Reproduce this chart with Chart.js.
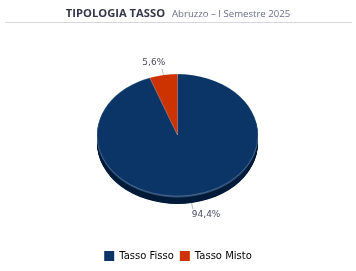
<!DOCTYPE html>
<html>
<head>
<meta charset="utf-8">
<script src="https://cdn.jsdelivr.net/npm/chart.js@4.4.1/dist/chart.umd.min.js"></script>
<style>
  html, body { margin:0; padding:0; background:#fff; }
  #wrap { position:relative; width:356px; height:271px; }
  #hdr { position:absolute; left:0; top:0; width:356px; text-align:center; white-space:nowrap;
         font-family:"Open Sans","DejaVu Sans",sans-serif; line-height:22px; height:22px; }
  #hdr .t { font-weight:bold; font-size:11.2px; color:#34364a; }
  #hdr .s { font-size:9.6px; color:#6b6d86; margin-left:7px; }
  #rule { position:absolute; left:5px; top:22px; width:347px; height:1px; background:#d6d6e0; }
  canvas { position:absolute; left:0; top:0; }
</style>
</head>
<body>
<div id="wrap">
  <canvas id="c" width="356" height="271"></canvas>
  <div id="hdr"><span class="t">TIPOLOGIA TASSO</span><span class="s">Abruzzo – I Semestre 2025</span></div>
  <div id="rule"></div>
</div>
<script>
const categories = ["Tasso Fisso", "Tasso Misto"];
const values = [94.4, 5.6];
const valueLabels = ["94,4%", "5,6%"];
const colors = ["#0a3566", "#cc3300"];
const sideColors = ["#011c3a", "#7a1f00"];

const CX = 177.5, CY = 135, SY = 0.758, DEPTH = 8;

const tiltPlugin = {
  id: 'tilt',
  beforeDatasetsDraw(chart) {
    const ctx = chart.ctx;
    const meta = chart.getDatasetMeta(0);
    const arc0 = meta.data[0];
    const cx = arc0.x, cy = arc0.y;
    ctx.save();
    ctx.translate(CX, CY);
    ctx.scale(1, SY);
    ctx.translate(-cx, -cy);
    for (let d = DEPTH; d >= 1; d -= 0.5) {
      meta.data.forEach((a, i) => {
        ctx.beginPath();
        ctx.moveTo(cx, cy + d / SY);
        ctx.arc(cx, cy + d / SY, a.outerRadius, a.startAngle, a.endAngle);
        ctx.closePath();
        ctx.fillStyle = d < 1.6 ? "#2a4b73" : sideColors[i];
        ctx.fill();
      });
    }
  },
  afterDatasetsDraw(chart) {
    const ctx = chart.ctx;
    ctx.restore();
    const meta = chart.getDatasetMeta(0);
    ctx.save();
    ctx.font = '9px "DejaVu Sans", sans-serif';
    ctx.fillStyle = '#4a4c63';
    ctx.strokeStyle = '#b9bccb';
    ctx.lineWidth = 1;
    meta.data.forEach((a, i) => {
      const mid = (a.startAngle + a.endAngle) / 2;
      const r = a.outerRadius;
      const below = Math.sin(mid) > 0;
      const ex = CX + Math.cos(mid) * r;
      const ey = CY + Math.sin(mid) * r * SY + (below ? DEPTH : 0);
      const lx = CX + Math.cos(mid) * (r + 7);
      const ly = ey + (below ? 6 : -6);
      ctx.beginPath();
      ctx.moveTo(ex, ey);
      ctx.lineTo(lx, ly);
      ctx.stroke();
      ctx.textBaseline = 'middle';
      if (below) {
        ctx.textAlign = 'left';
        ctx.fillText(valueLabels[i], lx - 1, ly + 6);
      } else {
        ctx.textAlign = 'right';
        ctx.fillText(valueLabels[i], lx + 3, ly - 6);
      }
    });
    ctx.restore();
  }
};

new Chart(document.getElementById('c'), {
  type: 'pie',
  data: {
    labels: categories,
    datasets: [{
      data: values,
      backgroundColor: colors,
      borderColor: 'rgba(255,255,255,0.35)',
      borderWidth: 0.6,
      radius: 80.5
    }]
  },
  options: {
    responsive: false,
    animation: false,
    layout: { padding: { top: 30, bottom: 0 } },
    plugins: {
      tooltip: { enabled: false },
      legend: {
        position: 'bottom',
        labels: {
          boxWidth: 10, boxHeight: 10, padding: 6,
          color: '#3f4357',
          font: { family: '"DejaVu Sans", sans-serif', size: 10 },
          generateLabels(chart) {
            return categories.map((c, i) => ({
              text: c, fillStyle: colors[i], strokeStyle: colors[i], lineWidth: 0, index: i, hidden: false
            }));
          }
        }
      }
    }
  },
  plugins: [tiltPlugin]
});
</script>
</body>
</html>
